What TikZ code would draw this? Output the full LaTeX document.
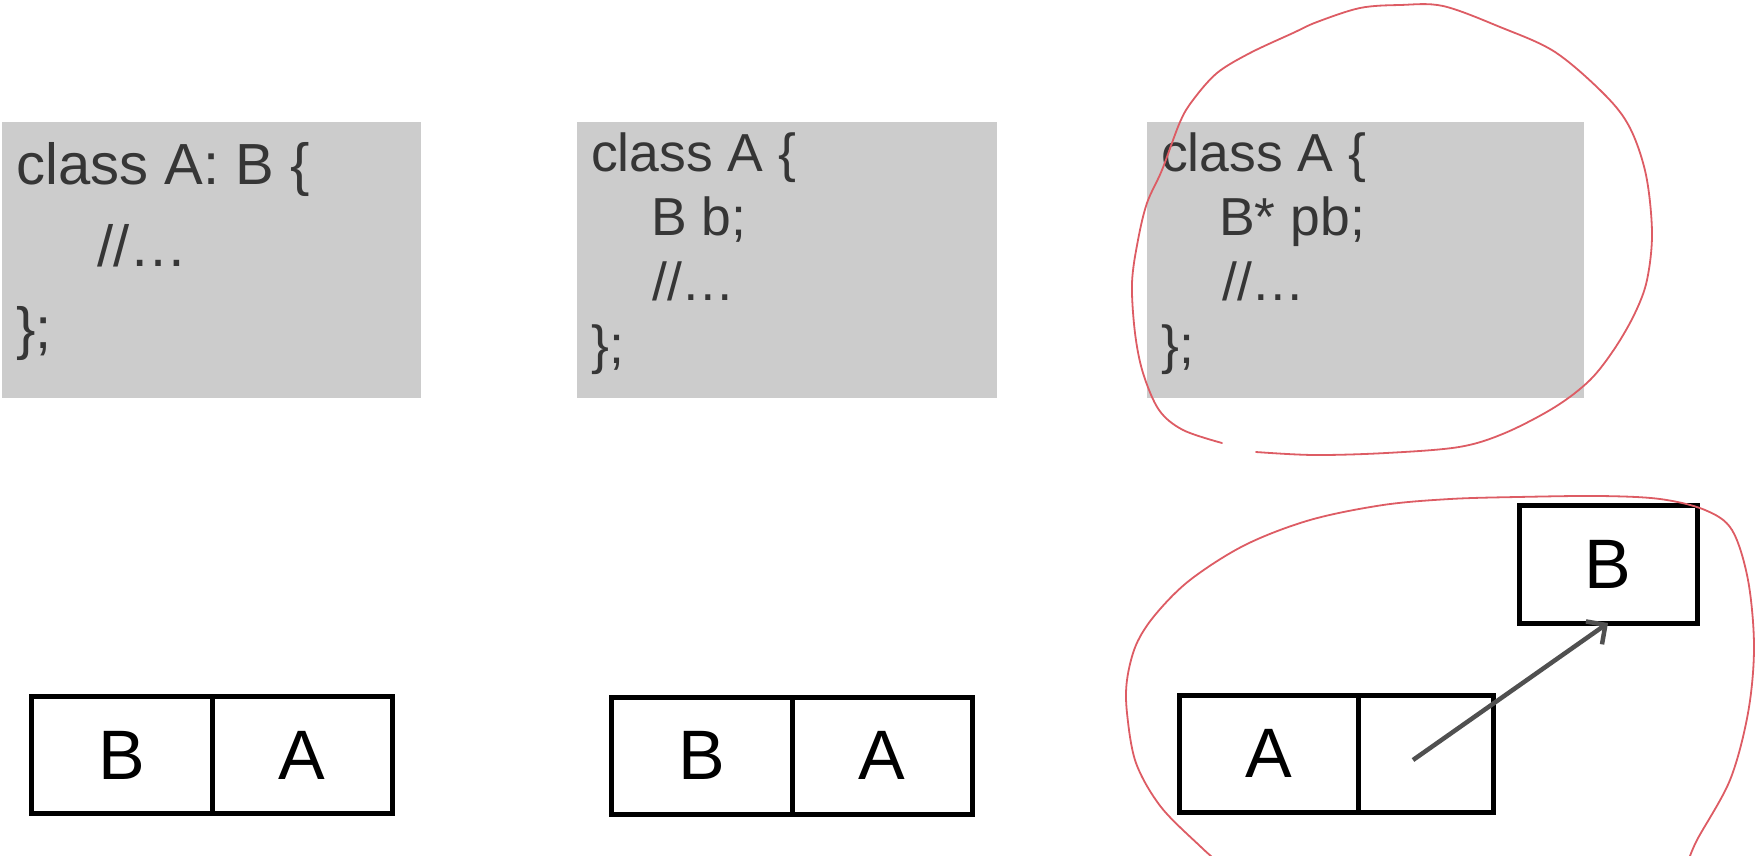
\documentclass[tikz,border=0pt]{standalone}
\usepackage{fontspec}
\setmainfont{Liberation Sans}
\usetikzlibrary{positioning, arrows.meta}
\definecolor{codegray}{HTML}{CCCCCC}
\definecolor{codetext}{HTML}{363636}
\definecolor{pengray}{HTML}{505050}
\definecolor{inkred}{RGB}{221,92,100}
\tikzset{
  codebox/.style={fill=codegray, draw=none, anchor=north west, inner sep=0pt, outer sep=0pt}, % grey code panel
  codeline/.style={anchor=base west, inner sep=0pt, text=codetext, font=\fontsize{53.5}{53.5}\selectfont}, % one line of code
  cell/.style={draw, line width=5pt, minimum width=180pt, minimum height=117pt, inner sep=0pt, outer sep=0pt, font=\fontsize{70}{70}\selectfont}, % memory cell
  pointer/.style={draw=pengray, line width=4.5pt, -{Straight Barb[length=14pt, width=28pt]}},
  ink/.style={draw=inkred, line width=1.8pt, line cap=round, line join=round}, % hand drawn marks
}

\begin{document}
\begin{tikzpicture}[x=1pt, y=-1pt]
	\useasboundingbox (0,0) rectangle (1756,855);
	\clip (0,0) rectangle (1756,855);

	% code panels
	\node[codebox, minimum width=419pt, minimum height=276pt] (codeInh) at (2,122) {};
	\node[codebox, minimum width=420pt, minimum height=276pt] (codeObj) at (577,122) {};
	\node[codebox, minimum width=437pt, minimum height=276pt] (codePtr) at (1147,122) {};

	\node[codeline, font=\fontsize{58}{58}\selectfont] (inh1) at (16,184) {class A: B \{};
	\node[codeline, font=\fontsize{58}{58}\selectfont] (inh2) at (97,266) {//…};
	\node[codeline, font=\fontsize{58}{58}\selectfont] (inh3) at (16,348) {\};};

	\node[codeline] (obj1) at (591,171) {class A \{};
	\node[codeline] (obj2) at (651,235) {B b;};
	\node[codeline] (obj3) at (652,300) {//…};
	\node[codeline] (obj4) at (591,363) {\};};

	\node[codeline] (ptr1) at (1161,171) {class A \{};
	\node[codeline] (ptr2) at (1219,235) {B* pb;};
	\node[codeline] (ptr3) at (1222,300) {//…};
	\node[codeline] (ptr4) at (1161,363) {\};};

	% memory layouts
	\node[cell, minimum width=181pt] (inhB) at (121.5,755) {B};
	\node[cell, right=0pt of inhB] (inhA) {A};

	\node[cell, minimum width=181pt] (objB) at (701.5,755.5) {B};
	\node[cell, right=0pt of objB] (objA) {A};

	\node[cell, minimum width=179pt] (ptrA) at (1268.5,753.5) {A};
	\node[cell, minimum width=135pt, right=0pt of ptrA] (ptrP) {};
	\node[cell, minimum width=178pt, minimum height=118pt] (heapB) at (1608,564) {B};

	\coordinate (pb) at (1413,760);
	\draw[pointer] (pb) -- (heapB.south);

	% red marks
	\draw[ink] plot[smooth, tension=0.55] coordinates {(1256,452) (1314,455) (1386,453) (1459,447) (1505,433) (1555,407) (1590,380) (1615,348) (1635,313) (1647,280) (1652,233) (1646,175) (1630,128) (1605,95) (1555,52) (1500,27) (1443,6) (1400,5) (1360,8) (1317,22) (1293,33) (1250,53) (1217,73) (1193,100) (1180,122) (1162,170) (1147,203) (1138,240) (1132,283) (1135,333) (1143,373) (1159,410) (1183,430) (1222,443)};
	\draw[ink] plot[smooth, tension=0.55] coordinates {(1218,862) (1201,847) (1161,807) (1136,763) (1127,713) (1127,680) (1136,645) (1155,615) (1190,580) (1245,545) (1310,520) (1383,505) (1450,499) (1517,497) (1600,496) (1660,499) (1705,510) (1732,530) (1748,580) (1754,647) (1748,713) (1730,780) (1697,840) (1688,862)};
\end{tikzpicture}
\end{document}
